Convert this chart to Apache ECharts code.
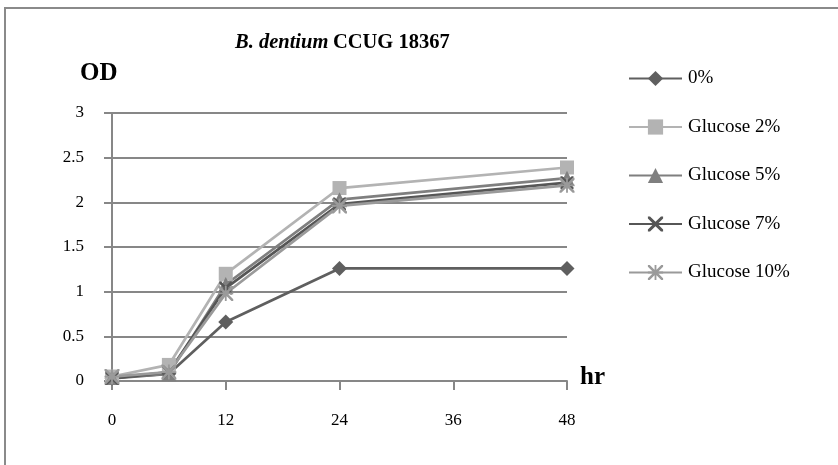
<!DOCTYPE html>
<html>
<head>
<meta charset="utf-8">
<script src="https://cdn.jsdelivr.net/npm/echarts@6/dist/echarts.min.js"></script>
<style>
  html, body { margin: 0; padding: 0; background: #fff; }
  #chart { width: 838px; height: 465px; }
</style>
</head>
<body>
<div id="chart"></div>
<script>
// Sampling times (hours)
const hours = [0, 6, 12, 24, 48];
const xTicks = [0, 12, 24, 36, 48];
const yTicks = [0, 0.5, 1, 1.5, 2, 2.5, 3];

// Optical density readings per glucose concentration
const seriesNames = ['0%', 'Glucose 2%', 'Glucose 5%', 'Glucose 7%', 'Glucose 10%'];
const od0 = [0.03, 0.08, 0.66, 1.26, 1.26];
const od2 = [0.05, 0.18, 1.20, 2.16, 2.39];
const od5 = [0.04, 0.08, 1.08, 2.03, 2.27];
const od7 = [0.03, 0.10, 1.04, 1.98, 2.22];
const od10 = [0.05, 0.10, 0.98, 1.96, 2.19];

const FONT = '"Liberation Serif", "Times New Roman", serif';
const GRID = '#878787';

const crossPath = 'path://M0,0 L1.4,0 L5,3.6 L8.6,0 L10,0 L10,1.4 L6.4,5 L10,8.6 L10,10 L8.6,10 L5,6.4 L1.4,10 L0,10 L0,8.6 L3.6,5 L0,1.4 Z';
const starPath = 'path://M0,4.4 H10 V5.6 H0 Z M4.4,0 H5.6 V10 H4.4 Z M0,0 L1.2,0 L5,3.8 L8.8,0 L10,0 L10,1.2 L6.2,5 L10,8.8 L10,10 L8.8,10 L5,6.2 L1.2,10 L0,10 L0,8.8 L3.8,5 L0,1.2 Z';

const styles = [
  { color: '#5f5f5f', symbol: 'diamond', size: 15 },
  { color: '#b3b3b3', symbol: 'rect', size: 14 },
  { color: '#7f7f7f', symbol: 'triangle', size: 15 },
  { color: '#565656', symbol: crossPath, size: 13 },
  { color: '#9a9a9a', symbol: starPath, size: 15 }
];
const values = [od0, od2, od5, od7, od10];

const series = seriesNames.map((name, i) => ({
  name: name,
  type: 'line',
  data: hours.map((h, j) => [h, values[i][j]]),
  symbol: styles[i].symbol,
  symbolSize: styles[i].size,
  showAllSymbol: true,
  lineStyle: { color: styles[i].color, width: 2.7 },
  itemStyle: { color: styles[i].color, opacity: 1 },
  emphasis: { disabled: true },
  animation: false
}));

const chart = echarts.init(document.getElementById('chart'), null, { renderer: 'canvas' });
chart.setOption({
  backgroundColor: '#ffffff',
  animation: false,
  textStyle: { fontFamily: FONT },
  title: {
    text: '{i|B. dentium} {b|CCUG 18367}',
    left: 230,
    top: 27,
    textStyle: {
      rich: {
        i: { fontFamily: FONT, fontStyle: 'italic', fontWeight: 'bold', fontSize: 20.5, color: '#000' },
        b: { fontFamily: FONT, fontWeight: 'bold', fontSize: 20.5, color: '#000' }
      }
    }
  },
  legend: {
    orient: 'vertical',
    left: 628,
    top: 69,
    padding: 0,
    itemWidth: 53,
    itemHeight: 19,
    itemGap: 29.5,
    data: seriesNames,
    textStyle: { fontFamily: FONT, fontSize: 19, color: '#000', padding: [0, 0, 0, 1] },
    selectedMode: false
  },
  grid: { left: 112, right: 271, top: 113, bottom: 84 },
  xAxis: {
    type: 'value',
    min: xTicks[0],
    max: xTicks[xTicks.length - 1],
    interval: xTicks[1] - xTicks[0],
    axisLine: { show: true, onZero: false, lineStyle: { color: GRID, width: 2 } },
    axisTick: { show: true, inside: false, length: 9, lineStyle: { color: GRID, width: 2 } },
    axisLabel: { color: '#000', fontFamily: FONT, fontSize: 17, margin: 31 },
    splitLine: { show: false }
  },
  yAxis: {
    type: 'value',
    min: yTicks[0],
    max: yTicks[yTicks.length - 1],
    interval: yTicks[1] - yTicks[0],
    axisLine: { show: true, lineStyle: { color: GRID, width: 2 } },
    axisTick: { show: true, inside: false, length: 8, lineStyle: { color: GRID, width: 2 } },
    axisLabel: { color: '#000', fontFamily: FONT, fontSize: 17, margin: 28 },
    splitLine: { show: true, lineStyle: { color: GRID, width: 2 } }
  },
  graphic: [
    {
      type: 'rect',
      shape: { x: 5, y: 8, width: 1000, height: 800 },
      style: { fill: 'none', stroke: '#8a8a8a', lineWidth: 2 },
      silent: true,
      z: -1
    },
    {
      type: 'text',
      left: 80,
      top: 61,
      style: { text: 'OD', font: 'bold 25px ' + FONT, fill: '#000' }
    },
    {
      type: 'text',
      left: 580,
      top: 365,
      style: { text: 'hr', font: 'bold 25px ' + FONT, fill: '#000' }
    }
  ],
  series: series
});
</script>
</body>
</html>
